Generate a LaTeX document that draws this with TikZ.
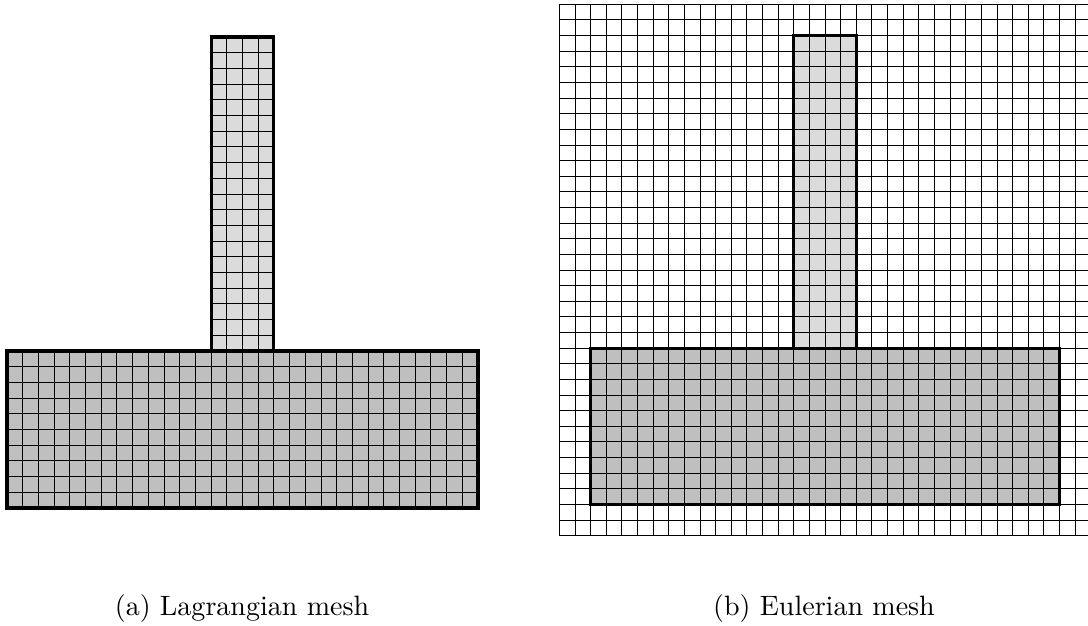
\documentclass[tikz,border=0pt]{standalone}
\definecolor{baseGray}{gray}{0.75}
\definecolor{colGray}{gray}{0.86}
\tikzset{
  gridline/.style={line width=0.3pt, black},
  outline/.style={line width=1.1pt, black, line join=miter},
  basefill/.style={fill=baseGray},
  colfill/.style={fill=colGray},
  caption/.style={anchor=base, inner sep=0pt, font=\fontsize{10}{12}\selectfont}
}
\begin{document}
\begin{tikzpicture}[x=0.357pt, y=0.357pt]
\useasboundingbox (0,0) rectangle (1088,626);
\clip (0,0) rectangle (1088,626);
% (a) Lagrangian mesh
\begin{scope}[shift={(7,118)}, scale=15.7]
  \fill[basefill] (0,0) rectangle (30,10);
  \fill[colfill] (13,10) rectangle (17,30);
  \foreach \i in {1,...,29} \draw[gridline] (\i,0) -- (\i,10);
  \foreach \j in {1,...,9} \draw[gridline] (0,\j) -- (30,\j);
  \foreach \i in {14,15,16} \draw[gridline] (\i,10) -- (\i,30);
  \foreach \j in {11,...,29} \draw[gridline] (13,\j) -- (17,\j);
  \draw[outline] (0,0) rectangle (30,10);
  \draw[outline] (13,10) -- (13,30) -- (17,30) -- (17,10);
\end{scope}
% (b) Eulerian mesh
\begin{scope}[shift={(559.3,90.3)}, scale=15.63]
  \fill[basefill] (2,2) rectangle (32,12);
  \fill[colfill] (15,12) rectangle (19,32);
  \foreach \i in {0,...,34} \draw[gridline] (\i,0) -- (\i,34);
  \foreach \j in {0,...,34} \draw[gridline] (0,\j) -- (34,\j);
  \draw[outline] (2,2) rectangle (32,12);
  \draw[outline] (15,12) -- (15,32) -- (19,32) -- (19,12);
\end{scope}
\node[caption] (capa) at (242,10) {(a) Lagrangian mesh};
\node[caption] (capb) at (824,10) {(b) Eulerian mesh};
\end{tikzpicture}
\end{document}
